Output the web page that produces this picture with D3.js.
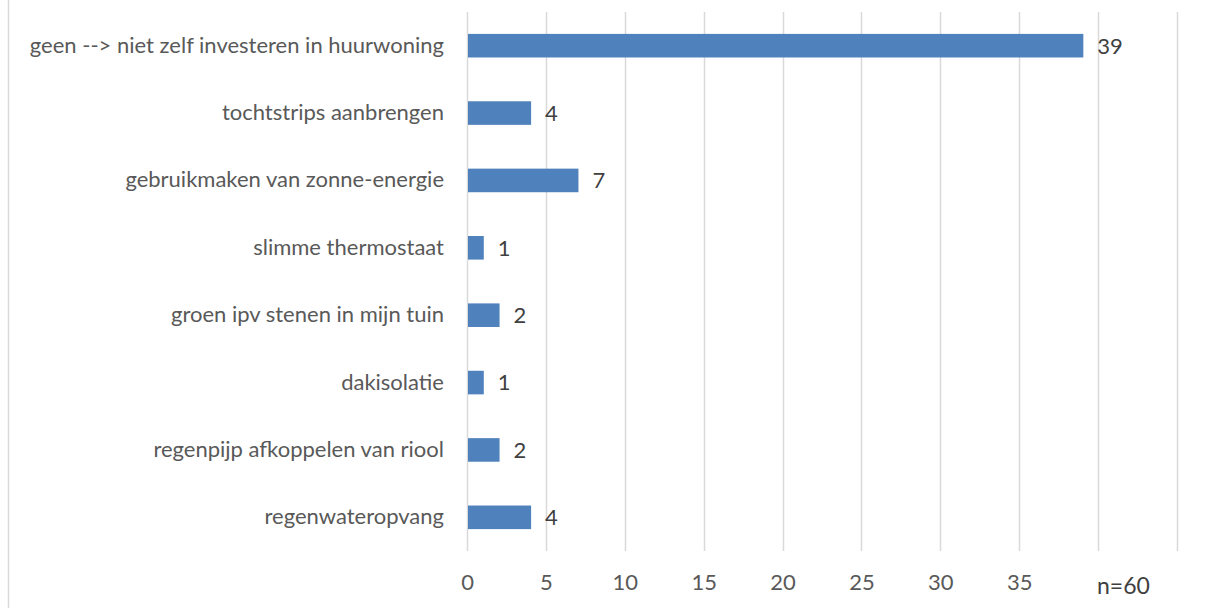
<!DOCTYPE html>
<html>
<head>
<meta charset="utf-8">
<script src="https://cdn.jsdelivr.net/npm/d3@7"></script>
<style>
html,body{margin:0;padding:0;background:#fff;}
svg{display:block;}
text{font-family:Lato, "Open Sans", sans-serif;}
</style>
</head>
<body>
<svg id="chart" width="1214" height="608"></svg>
<script>
const categories = [
  "geen --> niet zelf investeren in huurwoning",
  "tochtstrips aanbrengen",
  "gebruikmaken van zonne-energie",
  "slimme thermostaat",
  "groen ipv stenen in mijn tuin",
  "dakisolatie",
  "regenpijp afkoppelen van riool",
  "regenwateropvang"
];
const values = [39, 4, 7, 1, 2, 1, 2, 4];
const tickValues = [0, 5, 10, 15, 20, 25, 30, 35, 40, 45];
const tickLabels = ["0", "5", "10", "15", "20", "25", "30", "35", "", ""];
const note = "n=60";

const svg = d3.select("#chart");
const m = {left: 467, right: 1177, top: 12, bottom: 551};
const FS = 22;

// left border line
svg.append("line").attr("x1", 8.5).attr("x2", 8.5).attr("y1", 0).attr("y2", 608)
  .attr("stroke", "#d9d9d9").attr("stroke-width", 1.5);

const x = d3.scaleLinear().domain([0, 45]).range([m.left, m.right]);
const y = d3.scaleBand().domain(categories).range([m.top, m.bottom]).paddingInner(0.65).paddingOuter(0.325);

// gridlines
svg.append("g").selectAll("line").data(tickValues).join("line")
  .attr("x1", d => Math.round(x(d)) + 0.5).attr("x2", d => Math.round(x(d)) + 0.5)
  .attr("y1", m.top).attr("y2", m.bottom)
  .attr("stroke", "#d9d9d9").attr("stroke-width", 1.5);

// x axis labels
const xAxis = d3.axisBottom(x).tickValues(tickValues).tickSize(0).tickPadding(0)
  .tickFormat((d, i) => tickLabels[i]);
const gx = svg.append("g").attr("transform", `translate(0,${m.bottom})`).call(xAxis);
gx.select(".domain").remove();
gx.selectAll("text").attr("font-family", "Lato, sans-serif").attr("font-size", FS)
  .attr("fill", "#595959").attr("dy", null).attr("y", 39);

// y axis labels
const yAxis = d3.axisLeft(y).tickSize(0).tickPadding(23);
const gy = svg.append("g").attr("transform", `translate(${m.left},0)`).call(yAxis);
gy.select(".domain").remove();
gy.selectAll("text").attr("font-family", "Lato, sans-serif").attr("font-size", FS)
  .attr("fill", "#595959");

// bars
svg.append("g").selectAll("rect").data(values).join("rect")
  .attr("x", x(0) + 1)
  .attr("y", (d, i) => y(categories[i]))
  .attr("width", d => x(d) - x(0))
  .attr("height", y.bandwidth())
  .attr("fill", "#4f81bd");

// value labels
svg.append("g").selectAll("text").data(values).join("text")
  .attr("x", d => x(d) + 15)
  .attr("y", (d, i) => y(categories[i]) + y.bandwidth() / 2)
  .attr("dy", "0.36em")
  .attr("font-size", FS).attr("fill", "#404040")
  .text(d => d);

// note
svg.append("text").attr("x", 1097).attr("y", 594)
  .attr("font-size", 23).attr("fill", "#404040").text(note);
</script>
</body>
</html>
